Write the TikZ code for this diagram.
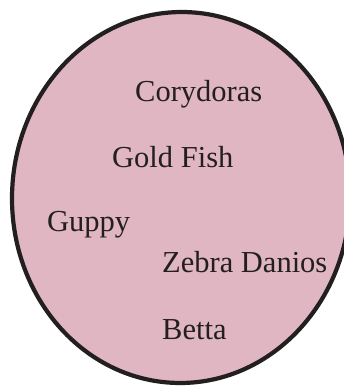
\documentclass[tikz,border=0pt]{standalone}
\usepackage{fontspec}
\setmainfont{Liberation Serif}
\definecolor{setpink}{RGB}{223,182,194}
\definecolor{inkc}{RGB}{35,31,32}
\begin{document}
\begin{tikzpicture}[x=1pt,y=1pt,
  fishlabel/.style={anchor=base west,inner sep=0pt,text=inkc,font=\fontsize{30.5}{32}\selectfont}]
\useasboundingbox (0,0) rectangle (343,388);
\fill[white] (0,0) rectangle (343,388);
\draw[fill=setpink,draw=inkc,line width=4.2pt,rotate around={-1.5:(181,190.5)}] (181,190.5) ellipse [x radius=169,y radius=185.5];
\node[fishlabel] (cory) at (135,286) {Corydoras};
\node[fishlabel] (gold) at (112,220) {Gold Fish};
\node[fishlabel] (guppy) at (47,156) {Guppy};
\node[fishlabel] (zebra) at (162,115) {Zebra Danios};
\node[fishlabel] (betta) at (162,48) {Betta};
\end{tikzpicture}
\end{document}
